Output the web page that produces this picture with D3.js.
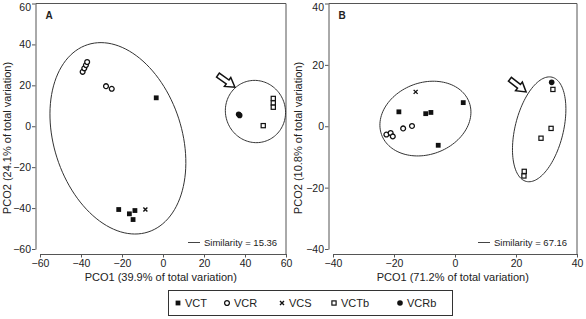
<!DOCTYPE html>
<html><head><meta charset="utf-8">
<script src="https://cdn.jsdelivr.net/npm/d3@7"></script>
<style>
body{margin:0;background:#fff}
text{font-family:"Liberation Sans",Arial,Helvetica,sans-serif;fill:#222}
</style>
</head><body>
<svg id="c" width="586" height="319"></svg>
<script>
// ---------- DATA ----------
const groups = ["VCT", "VCR", "VCS", "VCTb", "VCRb"];

const xTicksA = [-60, -40, -20, 0, 20, 40, 60];
const yTicksA = [-60, -40, -20, 0, 20, 40, 60];
const xTicksB = [-40, -20, 0, 20, 40];
const yTicksB = [-40, -20, 0, 20, 40];

const xTitleA = "PCO1 (39.9% of total variation)";
const yTitleA = "PCO2 (24.1% of total variation)";
const xTitleB = "PCO1 (71.2% of total variation)";
const yTitleB = "PCO2 (10.8% of total variation)";
const simA = "Similarity = 15.36";
const simB = "Similarity = 67.16";

// Panel A points [PCO1, PCO2]
const A_VCT  = [[-3.3, 13.9], [-21.6, -40.7], [-16.4, -42.8], [-13.7, -41.2], [-14.6, -45.6]];
const A_VCR  = [[-39.2, 26.6], [-38.4, 28.3], [-37.6, 29.9], [-37.0, 31.4], [-27.8, 19.6], [-25.0, 18.3]];
const A_VCS  = [[-8.6, -40.7]];
const A_VCTb = [[53.8, 13.6], [53.8, 11.4], [53.8, 9.3], [48.9, 0.3]];
const A_VCRb = [[36.9, 5.9], [37.4, 5.3]];

// Panel B points [PCO1, PCO2]
const B_VCT  = [[-18.4, 4.7], [-9.6, 4.1], [-7.9, 4.5], [2.7, 7.7], [-5.5, -6.2]];
const B_VCR  = [[-22.5, -2.7], [-21.1, -2.2], [-20.4, -3.3], [-17.0, -0.7], [-14.1, 0.1]];
const B_VCS  = [[-12.9, 11.2]];
const B_VCTb = [[32.1, 12.0], [31.5, -0.7], [28.2, -3.9], [22.7, -14.7], [22.6, -16.2]];
const B_VCRb = [[31.7, 14.3]];

// Similarity ellipses in data units: centre x, centre y, semi-axis a, semi-axis b, rotation (deg)
const A_ellipses = [[-22.0, -5.9, 48.1, 31.2, -72.2], [45.1, 7.2, 14.6, 15.3, 20]];
const B_ellipses = [[-9.7, 2.5, 15.3, 11.7, 20], [27.6, -1.0, 17.5, 7.9, 76]];

// Arrows [tailX, tailY, tipX, tipY] in data units
const A_arrow = [26.8, 25.0, 35.1, 19.1];
const B_arrow = [18.0, 15.3, 23.3, 11.2];

// ---------- DRAW ----------
const svg = d3.select("#c");
const AXIS = "#555", INK = "#111";
const FONT = "'Liberation Sans',Arial,sans-serif";

function panel(cfg) {
  const g = svg.append("g");
  const x = d3.scaleLinear().domain(cfg.xd).range(cfg.xr);
  const y = d3.scaleLinear().domain(cfg.yd).range(cfg.yr);
  const yAxisX = cfg.yAxisX, xAxisY = cfg.xAxisY;
  const top = y(cfg.yd[1]), right = x(cfg.xd[1]);

  // frame
  g.append("path").attr("d", `M${yAxisX},${top}H${right}V${xAxisY}`)
    .attr("fill", "none").attr("stroke", AXIS).attr("stroke-width", 1);

  // y axis
  const ya = g.append("g").attr("transform", `translate(${yAxisX},0)`)
    .call(d3.axisLeft(y).tickValues(cfg.yt).tickSize(3.5).tickSizeOuter(0).tickPadding(1));
  ya.select(".domain").attr("stroke", AXIS);
  ya.selectAll(".tick line").attr("stroke", AXIS);
  ya.selectAll("text").attr("font-size", 10.5).attr("fill", "#333").style("font-family", FONT)
    .attr("dy", d => d === cfg.yd[1] ? "0.62em" : "0.32em");

  // x axis
  const xa = g.append("g").attr("transform", `translate(0,${xAxisY})`)
    .call(d3.axisBottom(x).tickValues(cfg.xt).tickSize(3.5).tickSizeOuter(0).tickPadding(2));
  xa.select(".domain").attr("stroke", AXIS);
  xa.selectAll(".tick line").attr("stroke", AXIS);
  xa.selectAll("text").attr("font-size", 10.5).attr("fill", "#333").style("font-family", FONT);

  // titles
  const xc = (yAxisX + right) / 2;
  g.append("text").attr("x", xc).attr("y", 281).attr("text-anchor", "middle")
    .attr("font-size", 11).attr("fill", "#333").text(cfg.xTitle);
  g.append("text").attr("transform", `translate(${cfg.yTitleX},138) rotate(-90)`)
    .attr("text-anchor", "middle").attr("font-size", 11).attr("fill", "#333").text(cfg.yTitle);

  // panel letter
  g.append("text").attr("x", yAxisX + 10).attr("y", 19).attr("font-size", 10)
    .attr("font-weight", "bold").text(cfg.letter);

  // ellipses
  const line = d3.line().x(d => x(d[0])).y(d => y(d[1])).curve(d3.curveLinearClosed);
  cfg.ellipses.forEach(([cx, cy, a, b, ang]) => {
    const p = ang * Math.PI / 180;
    const pts = d3.range(0, 360, 3).map(t => {
      const r = t * Math.PI / 180;
      return [cx + a * Math.cos(r) * Math.cos(p) - b * Math.sin(r) * Math.sin(p),
              cy + a * Math.cos(r) * Math.sin(p) + b * Math.sin(r) * Math.cos(p)];
    });
    g.append("path").attr("d", line(pts)).attr("fill", "none")
      .attr("stroke", "#333").attr("stroke-width", 1);
  });

  // arrow
  const [tx, ty, hx, hy] = cfg.arrow;
  const X0 = x(tx), Y0 = y(ty), X1 = x(hx), Y1 = y(hy);
  const L = Math.hypot(X1 - X0, Y1 - Y0), angD = Math.atan2(Y1 - Y0, X1 - X0) * 180 / Math.PI;
  g.append("path")
    .attr("d", `M0,0L-9,-5.5L-9,-2.4L${-L},-2.4L${-L},2.4L-9,2.4L-9,5.5Z`)
    .attr("transform", `translate(${X1},${Y1}) rotate(${angD})`)
    .attr("fill", "#fff").attr("stroke", INK).attr("stroke-width", 1.5)
    .attr("stroke-linejoin", "miter");

  // points
  drawPoints(g, x, y, cfg.pts);

  // similarity legend
  const sy = y(cfg.yd[0]) - 6.5;
  g.append("line").attr("x1", cfg.simX).attr("x2", cfg.simX + 12).attr("y1", sy).attr("y2", sy)
    .attr("stroke", "#444").attr("stroke-width", 1);
  g.append("text").attr("x", cfg.simX + 16).attr("y", sy + 3.3).attr("font-size", 9.5)
    .attr("fill", "#333").text(cfg.sim);
}

function marker(sel, type) {
  if (type === "VCT") {
    sel.append("rect").attr("x", -2.4).attr("y", -2.4).attr("width", 4.8).attr("height", 4.8).attr("fill", INK);
  } else if (type === "VCR") {
    sel.append("circle").attr("r", 2.4).attr("fill", "#fff").attr("stroke", INK).attr("stroke-width", 1.3);
  } else if (type === "VCS") {
    sel.append("path").attr("d", "M-2,-2L2,2M-2,2L2,-2").attr("stroke", INK).attr("stroke-width", 1.4);
  } else if (type === "VCTb") {
    sel.append("rect").attr("x", -2.1).attr("y", -2.1).attr("width", 4.2).attr("height", 4.2)
      .attr("fill", "#fff").attr("stroke", INK).attr("stroke-width", 1.2);
  } else {
    sel.append("circle").attr("r", 2.8).attr("fill", INK);
  }
}

function drawPoints(g, x, y, pts) {
  groups.forEach(k => {
    (pts[k] || []).forEach(d => {
      const m = g.append("g").attr("transform", `translate(${x(d[0])},${y(d[1])})`);
      marker(m, k);
    });
  });
}

panel({
  letter: "A", xd: [-60, 60], yd: [-60, 60], xr: [40, 286], yr: [249, 3.5],
  yAxisX: 35.5, xAxisY: 254, xt: xTicksA, yt: yTicksA,
  xTitle: xTitleA, yTitle: yTitleA, yTitleX: 11,
  ellipses: A_ellipses, arrow: A_arrow, sim: simA, simX: 188,
  pts: { VCT: A_VCT, VCR: A_VCR, VCS: A_VCS, VCTb: A_VCTb, VCRb: A_VCRb }
});
panel({
  letter: "B", xd: [-40, 40], yd: [-40, 40], xr: [333, 577], yr: [249, 3.5],
  yAxisX: 328.5, xAxisY: 254, xt: xTicksB, yt: yTicksB,
  xTitle: xTitleB, yTitle: yTitleB, yTitleX: 302,
  ellipses: B_ellipses, arrow: B_arrow, sim: simB, simX: 478,
  pts: { VCT: B_VCT, VCR: B_VCR, VCS: B_VCS, VCTb: B_VCTb, VCRb: B_VCRb }
});

// ---------- group legend ----------
const leg = svg.append("g");
leg.append("rect").attr("x", 168.5).attr("y", 290.5).attr("width", 284).attr("height", 25)
  .attr("fill", "#fff").attr("stroke", "#333").attr("stroke-width", 1);
const legX = [178, 227, 282, 334, 400];
groups.forEach((k, i) => {
  const m = leg.append("g").attr("transform", `translate(${legX[i]},303)`);
  marker(m, k);
  leg.append("text").attr("x", legX[i] + 7).attr("y", 307).attr("font-size", 11)
    .attr("fill", "#222").text(k);
});
</script>
</body></html>
